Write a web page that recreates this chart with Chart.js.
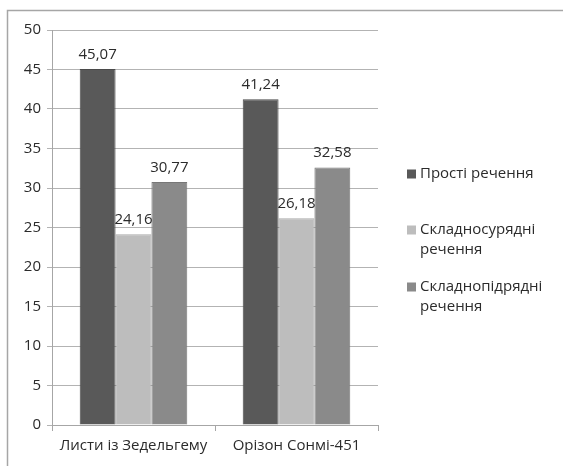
<!DOCTYPE html>
<html>
<head>
<meta charset="utf-8">
<script src="https://cdn.jsdelivr.net/npm/chart.js@4/dist/chart.umd.min.js"></script>
<style>
  html, body { margin: 0; padding: 0; background: #fff; }
  #wrap { position: relative; width: 563px; height: 466px; }
</style>
</head>
<body>
<div id="wrap"><canvas id="sentenceChart"></canvas></div>
<script>
// Data
const categories = ["Листи із Зедельгему", "Орізон Сонмі-451"];
const seriesNames = [["Прості речення"], ["Складносурядні", "речення"], ["Складнопідрядні", "речення"]];
const simpleValues = [45.07, 41.24];
const compoundValues = [24.16, 26.18];
const complexValues = [30.77, 32.58];
const seriesColors = ["#595959", "#bdbdbd", "#8a8a8a"];
const seriesBorders = ["#4a4a4a", "#aaaaaa", "#777777"];

const FONT = "'Open Sans', 'DejaVu Sans', sans-serif";
const TEXT = "#2b2b2b";

// Frame, value labels and the right-hand legend
const decorPlugin = {
  id: "decor",
  beforeDraw(chart) {
    const ctx = chart.ctx;
    ctx.save();
    ctx.strokeStyle = "#a6a6a6";
    ctx.lineWidth = 1.5;
    ctx.beginPath();
    ctx.moveTo(7.5, 466);
    ctx.lineTo(7.5, 10.5);
    ctx.lineTo(563, 10.5);
    ctx.stroke();
    ctx.restore();
  },
  afterDatasetsDraw(chart) {
    const ctx = chart.ctx;
    ctx.save();
    ctx.font = "15px " + FONT;
    ctx.fillStyle = TEXT;
    ctx.textAlign = "center";
    ctx.textBaseline = "bottom";
    chart.data.datasets.forEach((ds, i) => {
      chart.getDatasetMeta(i).data.forEach((bar, j) => {
        ctx.fillText(ds.data[j].toFixed(2).replace(".", ","), bar.x, bar.y - 7);
      });
    });

    // legend
    const x = chart.chartArea.right + 29;
    const rows = [174, 230, 287];
    ctx.textAlign = "left";
    ctx.textBaseline = "middle";
    seriesNames.forEach((lines, i) => {
      ctx.fillStyle = seriesColors[i];
      ctx.fillRect(x, rows[i] - 4.5, 9, 9);
      ctx.fillStyle = TEXT;
      lines.forEach((t, k) => ctx.fillText(t, x + 13, rows[i] + k * 20));
    });
    ctx.restore();
  },
};

new Chart(document.getElementById("sentenceChart"), {
  type: "bar",
  data: {
    labels: categories,
    datasets: [
      { label: seriesNames[0].join(" "), data: simpleValues },
      { label: seriesNames[1].join(" "), data: compoundValues },
      { label: seriesNames[2].join(" "), data: complexValues },
    ].map((ds, i) => ({
      ...ds,
      backgroundColor: seriesColors[i],
      borderColor: seriesBorders[i],
      borderWidth: 1,
      categoryPercentage: 0.66,
      barPercentage: 1.0,
    })),
  },
  options: {
    responsive: true,
    maintainAspectRatio: false,
    animation: false,
    layout: { padding: { top: 30, right: 185, bottom: 0, left: 0 } },
    plugins: {
      legend: { display: false },
      tooltip: { enabled: false },
    },
    scales: {
      x: {
        offset: true,
        grid: {
          offset: true,
          drawOnChartArea: false,
          tickLength: 6,
          color: "#a6a6a6",
        },
        border: { color: "#a6a6a6" },
        ticks: { color: TEXT, font: { family: FONT, size: 15 }, padding: 6 },
        afterFit(scale) { scale.height = 41; },
      },
      y: {
        min: 0,
        max: 50,
        ticks: { stepSize: 5, color: TEXT, font: { family: FONT, size: 15 }, padding: 6 },
        grid: { color: "#b3b3b3", tickLength: 5 },
        border: { color: "#a6a6a6" },
        afterFit(scale) { scale.width = 52; },
      },
    },
  },
  plugins: [decorPlugin],
});
</script>
</body>
</html>
